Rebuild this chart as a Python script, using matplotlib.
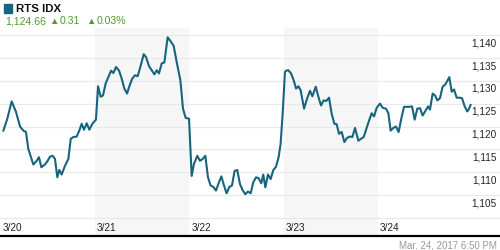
import matplotlib
matplotlib.use("Agg")
import matplotlib.pyplot as plt

plt.rcParams['font.family'] = ['Liberation Sans', 'DejaVu Sans']

# data (x = fractional trading day, 0 = 3/20 open)
days = ['3/20', '3/21', '3/22', '3/23', '3/24']
t = [0.025, 0.067, 0.113, 0.159, 0.202, 0.237, 0.265, 0.290, 0.343, 0.379,
     0.403, 0.428, 0.467, 0.492, 0.520, 0.549, 0.573, 0.598, 0.619, 0.644,
     0.679, 0.715, 0.740, 0.768, 0.803, 0.831, 0.856, 0.881, 0.910, 0.938,
     0.970, 1.008, 1.030, 1.058, 1.083, 1.111, 1.140, 1.168, 1.193, 1.221,
     1.253, 1.281, 1.309, 1.338, 1.366, 1.394, 1.423, 1.451, 1.479, 1.515,
     1.539, 1.571, 1.600, 1.628, 1.653, 1.677, 1.706, 1.734, 1.769, 1.805,
     1.833, 1.865, 1.904, 1.932, 1.960, 1.996, 2.024, 2.048, 2.084, 2.112,
     2.140, 2.169, 2.197, 2.225, 2.254, 2.282, 2.310, 2.339, 2.367, 2.395,
     2.424, 2.452, 2.480, 2.508, 2.537, 2.565, 2.593, 2.622, 2.650, 2.678,
     2.707, 2.735, 2.763, 2.784, 2.806, 2.834, 2.862, 2.891, 2.919, 2.947,
     2.968, 2.990, 3.014, 3.026, 3.050, 3.079, 3.107, 3.132, 3.157, 3.181,
     3.217, 3.249, 3.280, 3.305, 3.341, 3.369, 3.397, 3.425, 3.454, 3.482,
     3.510, 3.539, 3.563, 3.588, 3.617, 3.645, 3.673, 3.702, 3.730, 3.758,
     3.793, 3.822, 3.850, 3.878, 3.907, 3.935, 3.960, 3.988, 4.023, 4.051,
     4.087, 4.112, 4.136, 4.165, 4.193, 4.221, 4.249, 4.278, 4.306, 4.334,
     4.363, 4.391, 4.419, 4.448, 4.476, 4.504, 4.533, 4.554, 4.582, 4.607,
     4.632, 4.660, 4.688, 4.717, 4.759, 4.784, 4.809, 4.837, 4.865, 4.894,
     4.922, 4.950, 4.964, 4.985]
price = [1119.1, 1121.7, 1125.5, 1123.2, 1120.0, 1119.1, 1118.8, 1115.1, 1111.7, 1112.5,
         1113.3, 1111.1, 1111.7, 1112.4, 1113.4, 1113.6, 1112.9, 1108.9, 1110.5, 1109.5,
         1111.4, 1112.9, 1117.3, 1117.7, 1117.8, 1119.1, 1120.6, 1119.3, 1120.7, 1119.3,
         1120.6, 1121.5, 1128.8, 1126.5, 1126.8, 1129.4, 1130.8, 1132.2, 1131.7, 1133.0,
         1132.2, 1130.5, 1128.3, 1127.2, 1129.0, 1130.5, 1131.2, 1131.0, 1133.0, 1135.8,
         1135.2, 1133.2, 1132.3, 1131.4, 1132.3, 1131.6, 1133.8, 1134.0, 1139.5, 1138.5,
         1137.6, 1134.1, 1130.1, 1123.9, 1121.9, 1121.7, 1109.2, 1111.8, 1113.6, 1112.5,
         1112.9, 1113.6, 1108.9, 1107.1, 1106.8, 1106.0, 1107.6, 1109.1, 1107.1, 1105.4,
         1106.8, 1107.1, 1110.3, 1110.5, 1107.4, 1106.1, 1105.2, 1105.8, 1105.4, 1107.8,
         1108.9, 1108.7, 1107.6, 1109.5, 1106.7, 1109.5, 1108.5, 1110.5, 1111.2, 1113.3,
         1116.2, 1122.8, 1131.9, 1132.2, 1132.3, 1131.6, 1130.1, 1128.3, 1128.8, 1127.9,
         1123.9, 1126.1, 1127.8, 1126.6, 1128.7, 1126.5, 1124.6, 1125.7, 1125.6, 1126.3,
         1122.8, 1120.6, 1120.5, 1118.4, 1118.8, 1116.6, 1117.5, 1117.8, 1117.7, 1119.7,
         1116.9, 1117.3, 1117.7, 1119.5, 1121.3, 1122.9, 1122.2, 1124.1, 1125.0, 1124.1,
         1123.9, 1122.9, 1119.1, 1119.7, 1120.0, 1118.8, 1121.7, 1124.3, 1124.3, 1124.3,
         1124.4, 1121.5, 1123.9, 1124.0, 1122.4, 1123.4, 1124.4, 1123.7, 1127.2, 1126.8,
         1125.7, 1126.2, 1128.7, 1129.2, 1130.8, 1127.6, 1128.1, 1126.3, 1126.3, 1126.2,
         1124.4, 1123.3, 1123.7, 1124.7]
yticks = [1105, 1110, 1115, 1120, 1125, 1130, 1135, 1140]
grid_levels = [1100] + yticks

name = 'RTS IDX'
last = '1,124.66'
chg = '0.31'
pct = '0.03%'
stamp = 'Mar. 24, 2017 6:50 PM'

LINE = '#17647f'
GREEN = '#4e9e2c'

fig = plt.figure(figsize=(5, 2.5), dpi=100)
ax = fig.add_axes([0, 14 / 250, 1, 208 / 250])
ax.set_xlim(-0.0106, 5.297)
ax.set_ylim(1096.07, 1141.53)

# shaded alternate days
for i in range(len(days)):
    if i % 2 == 1:
        ax.axvspan(i, i + 1, color='#f6f6f6', lw=0, zorder=0)

for g in grid_levels:
    ax.axhline(g, color='#e9e9e9', lw=0.8, zorder=1)

ax.plot(t, price, color=LINE, lw=1.5, zorder=3, solid_joinstyle='round')

for v in yticks:
    ax.text(5.265, v - 0.7, f'{v:,}', ha='right', va='top', fontsize=7.2,
            color='#222222', zorder=4)

for i, d in enumerate(days):
    ax.text(i + 0.02, 1097.9, d, ha='left', va='center', fontsize=7.2,
            color='#222222', zorder=4)

for s in ['top', 'left', 'right']:
    ax.spines[s].set_visible(False)
ax.spines['bottom'].set_color('black')
ax.spines['bottom'].set_linewidth(1.6)
ax.set_xticks([])
ax.set_yticks([])

# header
fig.patches.append(plt.Rectangle((4 / 500, 1 - 12.5 / 250), 8 / 500, 8.5 / 250,
                                 transform=fig.transFigure, color=LINE))
fig.text(16 / 500, 1 - 9 / 250, name, fontsize=8.2, fontweight='bold',
         color='#111111', va='center')
fig.text(5 / 500, 1 - 21.5 / 250, last, fontsize=7.6, color=GREEN, va='center')
fig.text(49 / 500, 1 - 21 / 250, '▲', fontsize=6.8, color=GREEN, va='center')
fig.text(60 / 500, 1 - 21.5 / 250, chg, fontsize=7.6, color=GREEN, va='center')
fig.text(86 / 500, 1 - 21 / 250, '▲', fontsize=6.8, color=GREEN, va='center')
fig.text(97 / 500, 1 - 21.5 / 250, pct, fontsize=7.6, color=GREEN, va='center')

# footer
fig.text(497 / 500, 1 - 245 / 250, stamp, fontsize=7, color='#999999',
         ha='right', va='center')

fig.savefig('out.png', dpi=100)
